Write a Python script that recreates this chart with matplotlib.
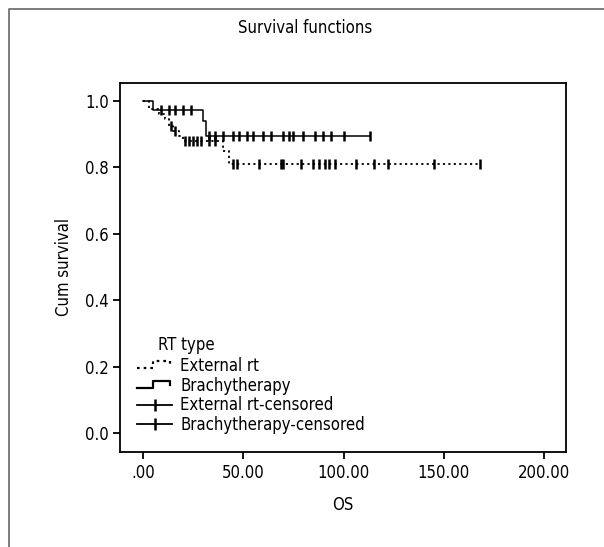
import numpy as np
import matplotlib
matplotlib.use("Agg")
import matplotlib.pyplot as plt
from matplotlib.lines import Line2D
from matplotlib.legend_handler import HandlerBase

plt.rcParams['font.family'] = ['DejaVu Sans']
plt.rcParams['font.stretch'] = 'condensed'

# ---- data ----
ext_times = [0, 3, 8, 11, 13, 15, 18, 20, 40, 43, 168]
ext_surv = [1.0, 0.975, 0.96, 0.945, 0.925, 0.91, 0.895, 0.88, 0.85, 0.81, 0.81]
ext_cens = [14, 16, 21, 23, 25, 27, 29, 33, 36, 45, 47, 58, 69, 70, 79, 85, 88,
            91, 93, 96, 106, 115, 122, 145, 168]

bra_times = [0, 5, 30, 31.5, 113]
bra_surv = [1.0, 0.973, 0.94, 0.893, 0.893]
bra_cens = [9, 13, 16, 20, 24, 33, 36, 40, 45, 48, 52, 55, 60, 64, 70, 73, 75,
            80, 86, 90, 94, 100, 113]

x_ticks = [0, 50, 100, 150, 200]
x_ticklabels = ['.00', '50.00', '100.00', '150.00', '200.00']
y_ticks = [0.0, 0.2, 0.4, 0.6, 0.8, 1.0]
y_ticklabels = ['0.0', '0.2', '0.4', '0.6', '0.8', '1.0']
labels = ['External rt', 'Brachytherapy', 'External rt-censored',
          'Brachytherapy-censored']

FS = 12


def step_value(times, surv, t):
    idx = np.searchsorted(times, t, side='right') - 1
    return np.asarray(surv)[idx]


fig = plt.figure(figsize=(6.04, 5.47), dpi=100)
ax = fig.add_axes([120 / 604, 1 - 452 / 547, (566 - 120) / 604, (452 - 83) / 547])

dotted = (0, (1.2, 1.8))
ax.step(ext_times, ext_surv, where='post', color='black', lw=1.3, linestyle=dotted)
ax.step(bra_times, bra_surv, where='post', color='black', lw=1.1)
ax.plot(ext_cens, step_value(ext_times, ext_surv, ext_cens), linestyle='none',
        marker='|', ms=7, mew=1.8, color='black')
ax.plot(bra_cens, step_value(bra_times, bra_surv, bra_cens), linestyle='none',
        marker='|', ms=7, mew=1.8, color='black')

ax.set_xlim(-11.5, 211)
ax.set_ylim(-0.057, 1.054)
ax.set_xticks(x_ticks)
ax.set_xticklabels(x_ticklabels)
ax.set_yticks(y_ticks)
ax.set_yticklabels(y_ticklabels)
ax.tick_params(direction='out', length=5, width=1.3, labelsize=FS, pad=3,
               top=False, right=False)
ax.tick_params(axis='x', pad=4)
for s in ax.spines.values():
    s.set_linewidth(1.3)
ax.set_xlabel('OS', fontsize=FS, labelpad=10)
ax.set_ylabel('Cum survival', fontsize=FS, labelpad=9)
fig.text(305 / 604, 1 - 28 / 547, 'Survival functions', fontsize=FS,
         ha='center', va='center')


class StepHandler(HandlerBase):
    def __init__(self, ls, lw):
        super().__init__()
        self.ls = ls
        self.lw = lw

    def create_artists(self, legend, orig_handle, xd, yd, w, h, fs, trans):
        xs = np.array([0, 0.45, 0.45, 0.95, 0.95]) * w - xd
        ys = np.array([0.25, 0.25, 0.85, 0.85, 0.45]) * h - yd
        ln = Line2D(xs, ys, color='black', lw=self.lw, linestyle=self.ls, transform=trans)
        return [ln]


class CensHandler(HandlerBase):
    def create_artists(self, legend, orig_handle, xd, yd, w, h, fs, trans):
        y = 0.5 * h - yd
        ln = Line2D([-xd, w - xd], [y, y], color='black', lw=1.3, transform=trans)
        mk = Line2D([0.5 * w - xd], [y], marker='|', ms=9, mew=1.8, color='black',
                    linestyle='none', transform=trans)
        return [ln, mk]


h1 = Line2D([], [])
h2 = Line2D([], [])
h3 = Line2D([], [])
h4 = Line2D([], [])
leg = ax.legend([h1, h2, h3, h4], labels, loc='upper left',
                bbox_to_anchor=(137 / 604, 1 - 357 / 547),
                bbox_transform=fig.transFigure, frameon=False, fontsize=FS,
                handlelength=2.1, handletextpad=0.5, labelspacing=0.1,
                borderpad=0, borderaxespad=0,
                handler_map={h1: StepHandler(dotted, 1.6), h2: StepHandler('-', 1.6),
                             h3: CensHandler(), h4: CensHandler()})
fig.text(158 / 604, 1 - 345 / 547, 'RT type', fontsize=FS, va='center', ha='left')

# outer gray frame (cropped at right and bottom)
fig.add_artist(Line2D([9 / 604, 9 / 604, 1.0], [0.0, 1 - 9 / 547, 1 - 9 / 547],
                      transform=fig.transFigure, color='#666666', lw=1.2))

fig.savefig('out.png', dpi=100)
